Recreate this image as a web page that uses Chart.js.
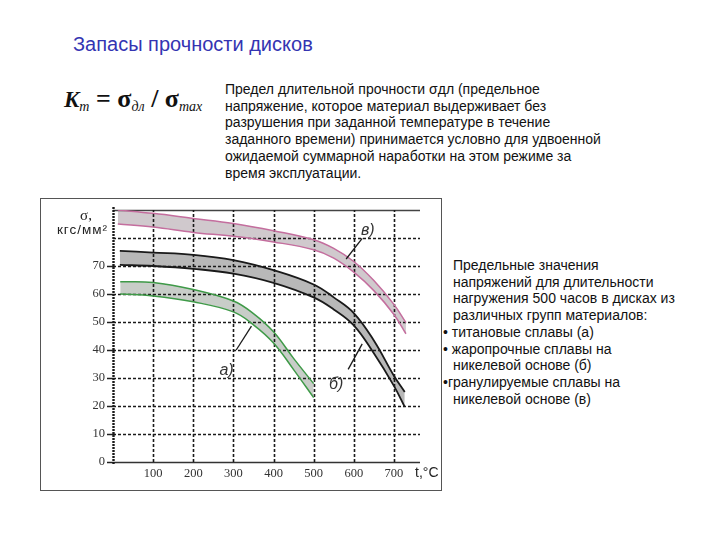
<!DOCTYPE html>
<html>
<head>
<meta charset="utf-8">
<script src="https://cdn.jsdelivr.net/npm/chart.js@4.4.0/dist/chart.umd.min.js"></script>
<style>
  body { margin: 0; width: 720px; height: 540px; background: #fff; position: relative; overflow: hidden;
         font-family: "Liberation Sans", Arial, sans-serif; color: #111; }
  #title { position: absolute; left: 73px; top: 33px; font-size: 20px; line-height: 22px; color: #3434b2; white-space: nowrap; }
  #formula { position: absolute; left: 64px; top: 84px; font-family: "Liberation Serif", serif; font-weight: bold;
             font-size: 26px; line-height: 30px; white-space: nowrap; }
  #formula i { font-size: 23px; }
  #formula sub { font-size: 14px; font-style: italic; font-weight: normal; vertical-align: -4px; }
  #para { position: absolute; left: 225px; top: 81px; font-size: 14px; line-height: 16.7px; white-space: nowrap; }
  #notes { position: absolute; left: 443px; top: 257px; font-size: 14px; line-height: 16.7px; white-space: nowrap; }
  #notes .in { padding-left: 10px; }
  #frame { position: absolute; left: 40px; top: 198px; width: 402px; height: 293px; box-sizing: border-box;
           border: 1px solid #555; }
  #chart { position: absolute; left: 0; top: 0; }
</style>
</head>
<body>
<div id="title">Запасы прочности дисков</div>
<div id="formula"><i>K</i><sub>т</sub> = σ<sub>дл</sub> / σ<sub>max</sub></div>
<div id="para">Предел длительной прочности σдл (предельное<br>напряжение, которое материал выдерживает без<br>разрушения при заданной температуре в течение<br>заданного времени) принимается условно для удвоенной<br>ожидаемой суммарной наработки на этом режиме за<br>время эксплуатации.</div>
<div id="notes">
  <div class="in">Предельные значения</div>
  <div class="in">напряжений для длительности</div>
  <div class="in">нагружения 500 часов в дисках из</div>
  <div class="in">различных групп материалов:</div>
  <div>• титановые сплавы (а)</div>
  <div>• жаропрочные сплавы на</div>
  <div class="in">никелевой основе (б)</div>
  <div>•гранулируемые сплавы на</div>
  <div class="in">никелевой основе (в)</div>
</div>
<div id="frame"><canvas id="chart" width="400" height="291"></canvas></div>

<script>
// temperatures, °C, and stress limits, кгс/мм²
const tempV = [12, 100, 200, 300, 400, 500, 550, 600, 650, 700, 730];
const vUpper = [90, 88.8, 87, 85.2, 82.6, 79.4, 76.3, 71.6, 64.8, 56.3, 49.8];
const vLower = [85, 83.9, 82, 80.6, 78.6, 75.8, 72.8, 67.8, 61.2, 52.7, 45.8];

const tempB = [17, 100, 200, 300, 400, 500, 550, 600, 650, 700, 727];
const bUpper = [75.4, 74.8, 74, 72.1, 68.5, 63.4, 58.8, 53.2, 43.4, 30.8, 25];
const bLower = [70.4, 70, 69, 67.3, 64, 58.8, 54.5, 48.8, 38.8, 27.2, 19.7];

const tempA = [18, 100, 200, 300, 350, 400, 450, 500];
const aUpper = [64.4, 64.1, 61.6, 57.5, 53, 46.5, 37, 28];
const aLower = [60, 59.3, 57.2, 53.6, 49, 42.5, 33, 23];

const xTicks = [0, 100, 200, 300, 400, 500, 600, 700];
const yTicks = [0, 10, 20, 30, 40, 50, 60, 70, 80, 90];
const yLabelled = [0, 10, 20, 30, 40, 50, 60, 70];

// curve labels and their leader lines
const curveNames = ['в)', 'б)', 'а)'];
const nameX = [635, 556, 283];
const nameY = [82.6, 27.6, 32.5];
const leadFromX = [581, 586, 307];
const leadFromY = [72.5, 33.1, 40];
const leadToX = [621, 621, 345];
const leadToY = [79.9, 42.2, 48.5];

const pts = (xs, ys) => xs.map((x, i) => ({ x, y: ys[i] }));

function edge(data, color, width, fill, bg) {
  return {
    data, borderColor: color, borderWidth: width, pointRadius: 0,
    tension: 0.4, fill: fill, backgroundColor: bg,
  };
}

const serif = '"Liberation Serif", "Times New Roman", serif';
const sans = '"Liberation Sans", Arial, sans-serif';

function line(ctx, x1, y1, x2, y2, width, dash, color) {
  ctx.save();
  ctx.lineWidth = width;
  ctx.strokeStyle = color || '#1a1a1a';
  ctx.setLineDash(dash);
  ctx.beginPath();
  ctx.moveTo(x1, y1);
  ctx.lineTo(x2, y2);
  ctx.stroke();
  ctx.restore();
}

// dashed grid of the scan, placed on the chart's own scales
const gridLines = {
  id: 'gridLines',
  beforeDatasetsDraw(chart) {
    const { ctx, chartArea: a, scales: { x, y } } = chart;
    const y0 = y.getPixelForValue(0);
    const yTop = y.getPixelForValue(90);
    const x0 = x.getPixelForValue(0);
    yTicks.forEach((v) => {
      const py = Math.round(y.getPixelForValue(v)) + 0.5;
      if (v === 0) line(ctx, x0, py, a.right, py, 1.5, [], '#333');
      else if (v === 90) line(ctx, x0, py, a.right, py, 1.5, [], '#444');
      else line(ctx, x0, py, a.right, py, 1.6, [3, 2]);
    });
    xTicks.forEach((v) => {
      const px = Math.round(x.getPixelForValue(v)) + 0.5;
      if (v === 0) line(ctx, px, y0 + 2, px, yTop - 3, 2.4, [2, 1]);
      else line(ctx, px, y0, px, yTop, 1.6, [3, 2]);
    });
  },
};

const extras = {
  id: 'extras',
  afterDatasetsDraw(chart) {
    const { ctx, chartArea: a, scales: { x, y } } = chart;
    for (let i = 0; i < curveNames.length; i++) {
      line(ctx, x.getPixelForValue(leadFromX[i]), y.getPixelForValue(leadFromY[i]),
        x.getPixelForValue(leadToX[i]), y.getPixelForValue(leadToY[i]), 1.3, []);
    }
    ctx.save();
    ctx.fillStyle = '#333';
    ctx.font = 'italic 16px ' + sans;
    ctx.textAlign = 'center';
    ctx.textBaseline = 'middle';
    for (let i = 0; i < curveNames.length; i++) {
      ctx.fillText(curveNames[i], x.getPixelForValue(nameX[i]), y.getPixelForValue(nameY[i]));
    }
    // axis titles
    ctx.fillStyle = '#222';
    ctx.font = '15px ' + serif;
    ctx.fillText('σ,', a.left - 27, y.getPixelForValue(88));
    ctx.font = '13.5px ' + sans;
    ctx.letterSpacing = '1px';
    ctx.textAlign = 'right';
    ctx.fillText('кгс/мм²', a.left - 5, y.getPixelForValue(82.8));
    ctx.letterSpacing = '0px';
    ctx.textAlign = 'left';
    ctx.font = '14px ' + sans;
    ctx.fillText('t,°C', a.right - 5, a.bottom + 11);
    ctx.restore();
  },
};

new Chart(document.getElementById('chart'), {
  type: 'line',
  data: {
    datasets: [
      edge(pts(tempV, vUpper), '#c46e9e', 1.5, false),
      edge(pts(tempV, vLower), '#c46e9e', 1.5, '-1', 'rgba(150,135,145,0.45)'),
      edge(pts(tempB, bUpper), '#1a1a1a', 1.8, false),
      edge(pts(tempB, bLower), '#1a1a1a', 1.8, '-1', 'rgba(125,125,125,0.55)'),
      edge(pts(tempA, aUpper), '#3f9a48', 1.5, false),
      edge(pts(tempA, aLower), '#3f9a48', 1.5, '-1', 'rgba(140,150,140,0.48)'),
    ],
  },
  options: {
    responsive: false,
    animation: false,
    devicePixelRatio: 1,
    layout: { padding: { top: 11, right: 21, left: 0, bottom: 0 } },
    plugins: {
      legend: { display: false },
      tooltip: { enabled: false },
      filler: { drawTime: 'beforeDatasetsDraw' },
    },
    scales: {
      x: {
        type: 'linear',
        min: 0,
        max: 765,
        afterBuildTicks(s) { s.ticks = xTicks.map((v) => ({ value: v })); },
        afterFit(s) { s.height = 28; },
        ticks: {
          color: '#333',
          font: { family: serif, size: 12.5 },
          padding: 4,
          maxRotation: 0,
          autoSkip: false,
          callback(v) { return v === 0 ? '' : String(v); },
        },
        grid: { drawOnChartArea: false, drawTicks: false },
        border: { display: false },
      },
      y: {
        min: 0,
        max: 90,
        afterBuildTicks(s) { s.ticks = yTicks.map((v) => ({ value: v })); },
        afterFit(s) { s.width = 72; },
        ticks: {
          color: '#333',
          font: { family: serif, size: 12.5 },
          padding: 2,
          callback(v) { return yLabelled.includes(v) ? String(v) : ''; },
        },
        grid: {
          drawOnChartArea: false,
          tickLength: 6,
          tickColor: (c) => (c.tick && c.tick.value > 70 ? 'rgba(0,0,0,0)' : '#222'),
          tickWidth: 1.5,
        },
        border: { display: false },
      },
    },
  },
  plugins: [gridLines, extras],
});
</script>
</body>
</html>
